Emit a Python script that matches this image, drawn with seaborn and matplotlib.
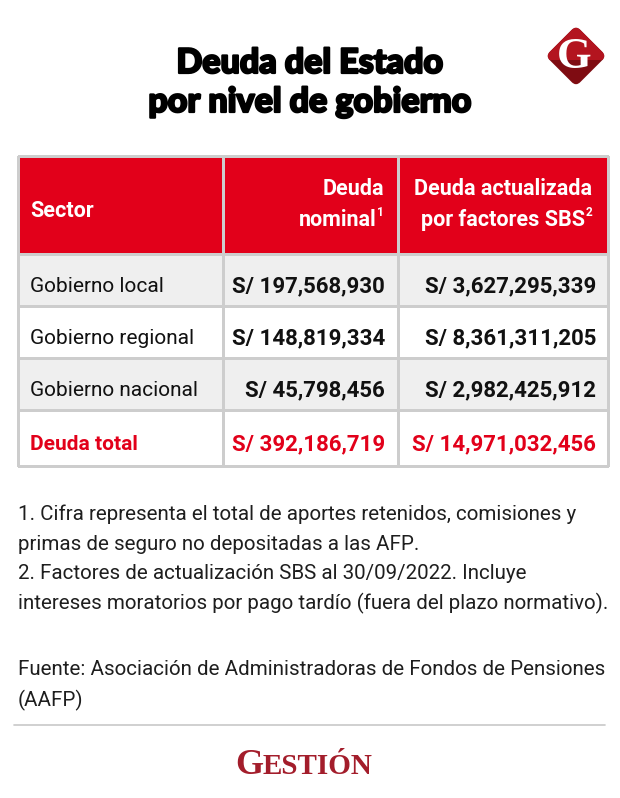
import matplotlib
matplotlib.use("Agg")
import matplotlib.pyplot as plt
import matplotlib.patheffects as pe
import seaborn as sns
import numpy as np
from matplotlib.colors import ListedColormap
from matplotlib.patches import FancyBboxPatch, Rectangle
from matplotlib.transforms import Affine2D

# datos
sectores = ["Gobierno local", "Gobierno regional", "Gobierno nacional"]
deuda_nominal = [197568930, 148819334, 45798456]
deuda_actualizada = [3627295339, 8361311205, 2982425912]
total_nombre = "Deuda total"
total_nominal = 392186719
total_actualizada = 14971032456
encabezados = ["Sector", ["Deuda", "nominal"], ["Deuda actualizada", "por factores SBS"]]
superindices = ["1", "2"]
notas = [
    "1. Cifra representa el total de aportes retenidos, comisiones y",
    "primas de seguro no depositadas a las AFP.",
    "2. Factores de actualizaci\u00f3n SBS al 30/09/2022. Incluye",
    "intereses moratorios por pago tard\u00edo (fuera del plazo normativo).",
]
fuente = ["Fuente: Asociaci\u00f3n de Administradoras de Fondos de Pensiones", "(AAFP)"]

sns.set_theme(style="white")
plt.rcParams['font.family'] = ['Roboto', 'DejaVu Sans']

ROJO = "#e2001a"
GRIS = "#efefef"
LINEA = "#cdcdcd"

fig = plt.figure(figsize=(6.2, 7.98), dpi=100)
ax = fig.add_axes([0, 0, 1, 1])
ax.set_xlim(0, 620)
ax.set_ylim(798, 0)
ax.axis("off")

# titulo (trazo extra para que se vea mas grueso)
for k, t in enumerate(["Deuda del Estado", "por nivel de gobierno"]):
    ax.text(310, 73 + k * 39, t, ha="center", va="baseline", fontsize=24.5,
            fontweight="black", color="#000000", family=["Lato", "Roboto"],
            path_effects=[pe.withStroke(linewidth=1.6, foreground="#000000")])

# logo G (rombo)
cx, cy, lado = 576, 56, 43
rot = Affine2D().rotate_deg_around(cx, cy, 45) + ax.transData
rombo = FancyBboxPatch((cx - lado / 2, cy - lado / 2), lado, lado,
                       boxstyle="round,pad=0,rounding_size=6",
                       facecolor="#7f0c12", edgecolor="none", transform=rot)
ax.add_patch(rombo)
arriba = Rectangle((cx - 40, cy - 40), 80, 44, facecolor="#b3141f",
                   edgecolor="none", transform=ax.transData)
ax.add_patch(arriba)
arriba.set_clip_path(rombo)
ax.text(cx - 2, cy + 1, "G", ha="center", va="center", fontsize=32,
        fontweight="bold", color="white", family=["Liberation Serif", "DejaVu Serif"])

# tabla
xbordes = np.array([18, 223, 398, 608])
ybordes = np.array([156, 254, 306, 358, 410, 466])
tono = np.array([[0, 0, 0], [1, 1, 1], [2, 2, 2], [1, 1, 1], [2, 2, 2]])
ax.pcolormesh(xbordes, ybordes, tono, cmap=ListedColormap([ROJO, GRIS, "#ffffff"]),
              vmin=-0.5, vmax=2.5, edgecolors=LINEA, linewidth=1.0)

# encabezado
ax.text(30, 217, encabezados[0], ha="left", va="baseline", fontsize=15.5,
        fontweight="bold", color="white")
for xder, lineas, sup in [(384, encabezados[1], superindices[0]),
                          (592, encabezados[2], superindices[1])]:
    ax.text(xder, 195, lineas[0], ha="right", va="baseline", fontsize=15.5,
            fontweight="bold", color="white")
    ax.text(xder - 7, 226, lineas[1], ha="right", va="baseline", fontsize=15.5,
            fontweight="bold", color="white")
    ax.text(xder, 216, sup, ha="right", va="baseline", fontsize=8.5,
            fontweight="bold", color="white")

# filas
nombres = sectores + [total_nombre]
nominal = deuda_nominal + [total_nominal]
actual = deuda_actualizada + [total_actualizada]
for i, (n, a, b) in enumerate(zip(nombres, nominal, actual)):
    yc = (ybordes[i + 1] + ybordes[i + 2]) / 2 + 12
    es_total = i == len(nombres) - 1
    col = ROJO if es_total else "#111111"
    ax.text(30, yc, n, ha="left", va="baseline", fontsize=15,
            fontweight="bold" if es_total else "normal", color=col)
    ax.text(385, yc, f"S/ {a:,}", ha="right", va="baseline", fontsize=16,
            fontweight="bold", color=col)
    ax.text(596, yc, f"S/ {b:,}", ha="right", va="baseline", fontsize=16,
            fontweight="bold", color=col)

# notas
for k, linea in enumerate(notas):
    ax.text(18, 520 + k * 29.7, linea, ha="left", va="baseline", fontsize=14.8,
            fontweight="normal", color="#1e1e1e")
for k, linea in enumerate(fuente):
    ax.text(18, 675 + k * 31, linea, ha="left", va="baseline", fontsize=14.8,
            fontweight="normal", color="#1e1e1e")

ax.plot([14, 605], [725, 725], color="#c8c8c8", linewidth=1.2)

# logo Gestion
ax.text(263, 774, "G", ha="right", va="baseline", fontsize=26, fontweight="bold",
        color="#a31d2b", family=["Liberation Serif", "DejaVu Serif"])
ax.text(263, 774, "ESTI\u00d3N", ha="left", va="baseline", fontsize=21,
        fontweight="bold", color="#a31d2b", family=["Liberation Serif", "DejaVu Serif"])

fig.savefig("out.png", dpi=100, facecolor="white")
